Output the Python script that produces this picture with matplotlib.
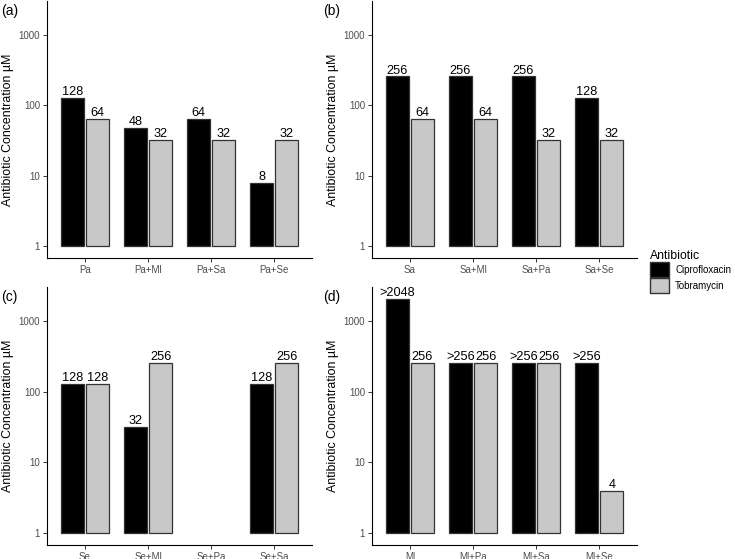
import numpy as np
import matplotlib
matplotlib.use("Agg")
from matplotlib import pyplot as plt
from matplotlib.patches import Patch

plt.rcParams["font.family"] = ["Liberation Sans", "DejaVu Sans"]

panel_tags = ["(a)", "(b)", "(c)", "(d)"]
categories = [
    ["Pa", "Pa+Ml", "Pa+Sa", "Pa+Se"],
    ["Sa", "Sa+Ml", "Sa+Pa", "Sa+Se"],
    ["Se", "Se+Ml", "Se+Pa", "Se+Sa"],
    ["Ml", "Ml+Pa", "Ml+Sa", "Ml+Se"],
]
cipro = [
    [128, 48, 64, 8],
    [256, 256, 256, 128],
    [128, 32, np.nan, 128],
    [2048, 256, 256, 256],
]
tobra = [
    [64, 32, 32, 32],
    [64, 64, 32, 32],
    [128, 256, np.nan, 256],
    [256, 256, 256, 4],
]
cipro_labels = [
    ["128", "48", "64", "8"],
    ["256", "256", "256", "128"],
    ["128", "32", "", "128"],
    [">2048", ">256", ">256", ">256"],
]
tobra_labels = [
    ["64", "32", "32", "32"],
    ["64", "64", "32", "32"],
    ["128", "256", "", "256"],
    ["256", "256", "256", "4"],
]

W, H = 735, 559
# axes boxes in pixels: left, top, right, bottom
boxes = [(47, 1, 312, 258), (372, 1, 637, 258), (47, 287, 312, 545), (372, 287, 637, 545)]
tag_x = [1, 323, 1, 323]

fig = plt.figure(figsize=(W / 100, H / 100), dpi=100)
black = "#000000"
grey = "#C8C8C8"
edge = "#333333"
bw = 0.36
off = 0.2

for i in range(4):
    l, t, r, b = boxes[i]
    ax = fig.add_axes([l / W, 1 - b / H, (r - l) / W, (b - t) / H])
    x = np.arange(4)
    c = np.array(cipro[i], dtype=float)
    tb = np.array(tobra[i], dtype=float)
    ax.bar(x - off, c - 1, bottom=1, width=bw, color=black, edgecolor=edge, linewidth=0.9)
    ax.bar(x + off, tb - 1, bottom=1, width=bw, color=grey, edgecolor=edge, linewidth=0.9)
    for j in range(4):
        if not np.isnan(c[j]):
            ax.text(x[j] - off, c[j] * 0.99, cipro_labels[i][j], ha="center", va="bottom", fontsize=9.2)
        if not np.isnan(tb[j]):
            ax.text(x[j] + off, tb[j] * 0.99, tobra_labels[i][j], ha="center", va="bottom", fontsize=9.2)
    ax.set_yscale("log")
    ax.set_ylim(10 ** -0.1656, 10 ** 3.477)
    ax.set_xlim(-0.6, 3.6)
    ax.set_yticks([1, 10, 100, 1000])
    ax.set_yticklabels(["1", "10", "100", "1000"])
    ax.minorticks_off()
    ax.set_xticks(x)
    ax.set_xticklabels(categories[i])
    ax.tick_params(labelsize=7, labelcolor="#4D4D4D", color="#333333", length=3, width=0.7, pad=2)
    for s in ["top", "right"]:
        ax.spines[s].set_visible(False)
    for s in ["left", "bottom"]:
        ax.spines[s].set_linewidth(0.8)
    ax.set_ylabel("Antibiotic Concentration µM", fontsize=8.9, labelpad=3)
    fig.text(tag_x[i] / W, 1 - (t + 10) / H, panel_tags[i], fontsize=10, va="center", ha="left")

handles = [Patch(facecolor=black, edgecolor=edge, label="Ciprofloxacin"),
           Patch(facecolor=grey, edgecolor=edge, label="Tobramycin")]
fig.legend(handles=handles, title="Antibiotic", loc="upper left", bbox_to_anchor=(648 / W, 1 - 248 / H),
           frameon=False, fontsize=7, title_fontsize=8.8, handlelength=2.0, handleheight=2.0,
           handletextpad=0.6, labelspacing=0.05, borderaxespad=0, borderpad=0.2, alignment="left")

fig.savefig("out.png", dpi=100)
